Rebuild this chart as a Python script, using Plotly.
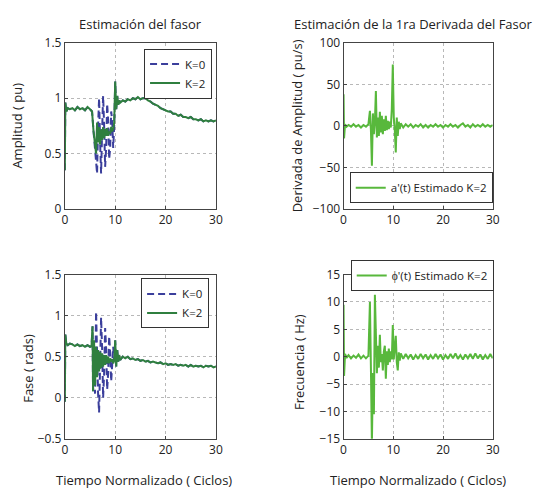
import plotly.graph_objects as go

# ---------------- data ----------------
# Amplitude panel (shared time base for K=0 and K=2)
t_amp = [0, 0.1, 0.3, 0.6, 1, 1.5, 2, 2.5, 3, 3.5, 4, 4.5, 5, 5.4, 5.7,
         6.0, 6.2, 6.4, 6.6, 6.8, 7.0, 7.2, 7.4, 7.6, 7.8, 8.0, 8.2, 8.4,
         8.6, 8.8, 9.0, 9.2, 9.4, 9.6, 9.8, 10.0, 10.2, 10.4, 10.6, 10.8,
         11.0, 11.5, 12, 12.5, 13, 13.5, 14, 14.5, 15, 15.5, 16, 16.5, 17,
         17.5, 18, 18.5, 19, 19.5, 20, 20.5, 21, 21.5, 22, 22.5, 23, 23.5,
         24, 24.5, 25, 25.5, 26, 26.5, 27, 27.5, 28, 28.5, 29, 29.5, 30]
amp_k2 = [0.35, 0.96, 0.88, 0.91, 0.90, 0.91, 0.89, 0.92, 0.90, 0.91, 0.89, 0.92, 0.90, 0.88, 0.70,
          0.55, 0.50, 0.78, 0.60, 0.74, 0.58, 0.72, 0.62, 0.74, 0.64, 0.72, 0.66, 0.73,
          0.66, 0.70, 0.68, 0.74, 0.70, 0.72, 0.78, 1.15, 0.90, 1.02, 0.94, 0.98,
          0.96, 0.98, 0.97, 0.99, 0.98, 1.00, 0.99, 1.01, 0.99, 1.00, 1.00, 0.98, 0.97,
          0.95, 0.94, 0.93, 0.91, 0.90, 0.89, 0.88, 0.88, 0.86, 0.86, 0.84, 0.85, 0.83,
          0.83, 0.82, 0.83, 0.81, 0.81, 0.80, 0.81, 0.79, 0.80, 0.79, 0.80, 0.79, 0.80]
amp_k0 = [0.35, 0.96, 0.88, 0.91, 0.90, 0.91, 0.89, 0.92, 0.90, 0.91, 0.89, 0.92, 0.90, 0.88, 0.70,
          0.55, 0.40, 0.32, 0.75, 1.00, 0.60, 0.32, 0.70, 1.02, 0.75, 0.38, 0.55, 0.95,
          0.80, 0.45, 0.55, 0.88, 0.80, 0.55, 0.75, 1.15, 0.90, 1.02, 0.94, 0.98,
          0.96, 0.98, 0.97, 0.99, 0.98, 1.00, 0.99, 1.01, 0.99, 1.00, 1.00, 0.98, 0.97,
          0.95, 0.94, 0.93, 0.91, 0.90, 0.89, 0.88, 0.88, 0.86, 0.86, 0.84, 0.85, 0.83,
          0.83, 0.82, 0.83, 0.81, 0.81, 0.80, 0.81, 0.79, 0.80, 0.79, 0.80, 0.79, 0.80]

# Phase panel
t_ph = [0, 0.1, 0.3, 0.6, 1, 1.5, 2, 2.5, 3, 3.5, 4, 4.5, 5, 5.3, 5.5, 5.6,
        5.8, 6.0, 6.2, 6.4, 6.6, 6.8, 7.0, 7.2, 7.4, 7.6, 7.8, 8.0, 8.2, 8.4,
        8.6, 8.8, 9.0, 9.2, 9.4, 9.6, 9.8, 10.0, 10.2, 10.4, 10.6, 10.8, 11.0,
        11.5, 12, 12.5, 13, 13.5, 14, 14.5, 15, 15.5, 16, 16.5, 17, 17.5, 18,
        18.5, 19, 19.5, 20, 20.5, 21, 21.5, 22, 22.5, 23, 23.5, 24, 24.5, 25,
        25.5, 26, 26.5, 27, 27.5, 28, 28.5, 29, 29.5, 30]
ph_k2 = [-0.05, 0.77, 0.66, 0.64, 0.66, 0.65, 0.63, 0.65, 0.63, 0.64, 0.62, 0.64, 0.62, 0.63, 0.87, 0.08,
         0.70, 0.15, 0.62, 0.25, 0.58, 0.32, 0.56, 0.36, 0.54, 0.38, 0.52, 0.40, 0.52, 0.42,
         0.50, 0.42, 0.48, 0.44, 0.47, 0.42, 0.45, 0.70, 0.38, 0.58, 0.44, 0.52, 0.46,
         0.50, 0.48, 0.50, 0.47, 0.48, 0.46, 0.47, 0.45, 0.46, 0.44, 0.45, 0.43, 0.44, 0.43,
         0.42, 0.43, 0.41, 0.42, 0.40, 0.41, 0.40, 0.41, 0.39, 0.40, 0.39, 0.40, 0.38, 0.40,
         0.38, 0.39, 0.38, 0.39, 0.37, 0.39, 0.38, 0.39, 0.37, 0.38]
ph_k0 = [-0.05, 0.77, 0.66, 0.64, 0.66, 0.65, 0.63, 0.65, 0.63, 0.64, 0.62, 0.64, 0.62, 0.63, 0.87, 0.08,
         0.40, 0.05, 1.05, 0.50, 0.05, -0.18, 0.50, 0.98, 0.60, 0.00, 0.30, 0.85, 0.60, 0.10,
         0.30, 0.75, 0.55, 0.20, 0.40, 0.62, 0.45, 0.70, 0.38, 0.58, 0.44, 0.52, 0.46,
         0.50, 0.48, 0.50, 0.47, 0.48, 0.46, 0.47, 0.45, 0.46, 0.44, 0.45, 0.43, 0.44, 0.43,
         0.42, 0.43, 0.41, 0.42, 0.40, 0.41, 0.40, 0.41, 0.39, 0.40, 0.39, 0.40, 0.38, 0.40,
         0.38, 0.39, 0.38, 0.39, 0.37, 0.39, 0.38, 0.39, 0.37, 0.38]

# Derivative panels (shared time base)
t_der = [0, 0.1, 0.3, 0.6, 1, 1.5, 2, 2.5, 3, 3.5, 4, 4.5, 5, 5.3, 5.5, 5.7,
         5.9, 6.1, 6.3, 6.5, 6.7, 6.9, 7.1, 7.3, 7.5, 7.7, 7.9, 8.1, 8.3, 8.5,
         8.7, 8.9, 9.1, 9.3, 9.5, 9.7, 9.9, 10.1, 10.3, 10.5, 10.7, 10.9, 11.1,
         11.3, 11.5, 12, 12.5, 13, 13.5, 14, 14.5, 15, 15.5, 16, 16.5, 17, 17.5,
         18, 18.5, 19, 19.5, 20, 20.5, 21, 21.5, 22, 22.5, 23, 23.5, 24, 24.5,
         25, 25.5, 26, 26.5, 27, 27.5, 28, 28.5, 29, 29.5, 30]
da_k2 = [38, -15, 2, -1, 1, -1, 2, -1, 1, -2, 1, -1, 2, 18, -5, -48,
         15, -10, 5, 42, -14, 10, -12, 17, -8, 12, -10, 8, -6, 12,
         -5, 6, -4, 5, -2, 20, 74, 10, -5, -32, 10, -12, 5,
         -4, 3, -2, 2, -1, 2, -2, 1, -1, 2, -2, 1, -2, 1,
         -1, 2, -1, 1, -2, 1, -1, 2, -1, 1, -2, 1, 3, -1,
         1, -2, 2, -1, 1, -1, 2, -1, 1, -1, 1]
fr_k2 = [9.5, -3.5, 0.5, -0.2, 0.3, -0.3, 0.2, -0.2, 0.4, -0.3, 0.2, -0.3, 0.2, 10, -2, -16,
         -3, -10.5, 11.3, 0, -3, 2, -2, 4, -1, 0.5, -2.5, 1, 2, -4,
         1, -1.5, 1.5, -1, 1, -0.5, 5.8, -0.5, 2, 3.8, -1, -2.5, 0.8,
         -0.7, 0.6, -0.4, 0.5, -0.3, 0.4, -0.5, 0.3, -0.4, 0.5, -0.3, 0.4, -0.5, 0.3,
         -0.4, 0.5, -0.3, 0.4, -0.5, 0.3, -0.4, 0.5, -0.3, 0.6, -0.4, 0.3, -0.5, 0.4,
         -0.3, 0.5, -0.4, 0.6, -0.3, 0.4, -0.5, 0.3, -0.4, 0.5, -0.3]

x_ticks = [0, 10, 20, 30]

BLUE = "#3b3f9c"
DKGREEN = "#2f7f3f"
LTGREEN = "#58b83c"
FONT = "Open Sans"
DASH = "7px,4px"

fig = go.Figure()

# amplitude
fig.add_trace(go.Scatter(x=t_amp, y=amp_k0, name="K=0", mode="lines",
                         line=dict(color=BLUE, width=2, dash=DASH),
                         xaxis="x", yaxis="y", legend="legend"))
fig.add_trace(go.Scatter(x=t_amp, y=amp_k2, name="K=2", mode="lines",
                         line=dict(color=DKGREEN, width=2),
                         xaxis="x", yaxis="y", legend="legend"))
# amplitude derivative
fig.add_trace(go.Scatter(x=t_der, y=da_k2, name="a'(t) Estimado K=2", mode="lines",
                         line=dict(color=LTGREEN, width=2),
                         xaxis="x2", yaxis="y2", legend="legend3"))
# phase
fig.add_trace(go.Scatter(x=t_ph, y=ph_k0, name="K=0", mode="lines",
                         line=dict(color=BLUE, width=2, dash=DASH),
                         xaxis="x3", yaxis="y3", legend="legend2"))
fig.add_trace(go.Scatter(x=t_ph, y=ph_k2, name="K=2", mode="lines",
                         line=dict(color=DKGREEN, width=2),
                         xaxis="x3", yaxis="y3", legend="legend2"))
# frequency
fig.add_trace(go.Scatter(x=t_der, y=fr_k2, name="\u03d5'(t) Estimado K=2", mode="lines",
                         line=dict(color=LTGREEN, width=2),
                         xaxis="x4", yaxis="y4", legend="legend4"))

W, H = 539, 498


def px(x):
    return x / W


def py(y):
    return 1 - y / H


axis_common = dict(showline=True, mirror=True, linecolor="#444", linewidth=1,
                   showgrid=True, gridcolor="#b8b8b8", griddash="dot", gridwidth=1,
                   zeroline=False, ticks="inside", ticklen=3, tickcolor="#444",
                   tickfont=dict(family=FONT, size=12, color="#222"))

left_dom = [px(63), px(217)]
right_dom = [px(347), px(499)]
top_dom = [py(207), py(35)]
bot_dom = [py(445), py(275)]


def leg(xr, yt):
    return dict(x=px(xr), y=py(yt), xanchor="right", yanchor="top",
                bgcolor="white", bordercolor="#333", borderwidth=1,
                font=dict(family=FONT, size=11.5, color="#222"),
                tracegroupgap=0, itemwidth=30)


fig.update_layout(
    width=W, height=H, margin=dict(l=0, r=0, t=0, b=0),
    paper_bgcolor="white", plot_bgcolor="white",
    font=dict(family=FONT, size=12, color="#222"),
    xaxis=dict(domain=left_dom, range=[0, 30], tickvals=x_ticks, anchor="y", **axis_common),
    yaxis=dict(domain=top_dom, range=[0, 1.5], dtick=0.5, anchor="x", **axis_common),
    xaxis2=dict(domain=right_dom, range=[0, 30], tickvals=x_ticks, anchor="y2", **axis_common),
    yaxis2=dict(domain=top_dom, range=[-100, 100], dtick=50, anchor="x2", **axis_common),
    xaxis3=dict(domain=left_dom, range=[0, 30], tickvals=x_ticks, anchor="y3", **axis_common),
    yaxis3=dict(domain=bot_dom, range=[-0.5, 1.5], dtick=0.5, anchor="x3", **axis_common),
    xaxis4=dict(domain=right_dom, range=[0, 30], tickvals=x_ticks, anchor="y4", **axis_common),
    yaxis4=dict(domain=bot_dom, range=[-15, 15], dtick=5, anchor="x4", **axis_common),
    legend=leg(213, 41),
    legend2=leg(210, 279),
    legend3=leg(499, 169),
    legend4=leg(500, 260),
)

title_font = dict(family=FONT, size=13, color="#222")
label_font = dict(family=FONT, size=13, color="#222")
labels = [
    ("Estimación del fasor", 140, 16, 0, title_font),
    ("Estimación de la 1ra Derivada del Fasor", 418, 16, 0, title_font),
    ("Tiempo Normalizado ( Ciclos)", 144, 488, 0, label_font),
    ("Tiempo Normalizado ( Ciclos)", 423, 488, 0, label_font),
    ("Amplitud ( pu)", 14, 121, -90, label_font),
    ("Derivada de Amplitud ( pu/s)", 299, 121, -90, label_font),
    ("Fase ( rads)", 26, 372, -90, label_font),
    ("Frecuencia ( Hz)", 301, 365, -90, label_font),
]
for text, x, y, ang, fnt in labels:
    fig.add_annotation(text=text, x=px(x), y=py(y), xref="paper", yref="paper",
                       showarrow=False, textangle=ang, font=fnt,
                       xanchor="center", yanchor="middle")

fig.write_html("out.html")
